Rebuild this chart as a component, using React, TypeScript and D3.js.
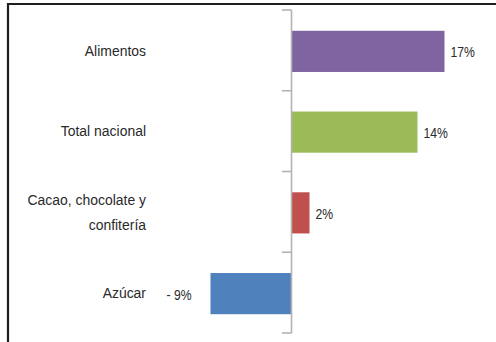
import React from "react";
import * as d3 from "d3";

// Variación porcentual por categoría
const categories = ["Alimentos", "Total nacional", "Cacao, chocolate y confitería", "Azúcar"];
const labelLines = [["Alimentos"], ["Total nacional"], ["Cacao, chocolate y", "confitería"], ["Azúcar"]];
const values = [17, 14, 2, -9];
const colors = ["#8064A2", "#9BBB59", "#C0504D", "#4F81BD"];

const W = 496;
const H = 342;
const FONT = "'Liberation Sans', Arial, Helvetica, sans-serif";
const TEXT = "#2a2a2a";
// horizontal squeeze for a condensed look
const CAT_SX = 0.93;
const VAL_SX = 0.84;

export default function App() {
  const y = d3
    .scaleBand<string>()
    .domain(categories)
    .range([10, 333])
    .paddingInner(0.49)
    .paddingOuter(0.245);

  const x = d3.scaleLinear().domain([-10, 20]).range([201.5, 471.5]);
  const x0 = x(0);

  const tickYs = [...categories.map((c) => (y(c) as number) - (y.step() * y.paddingInner()) / 2), 333];
  tickYs[0] = 10;

  const fmt = (v: number) => (v < 0 ? `- ${Math.abs(v)}%` : `${v}%`);

  return (
    <svg
      width={W}
      height={H}
      style={{ position: "absolute", left: 0, top: 0, background: "#fff" }}
      fontFamily={FONT}
    >
      {/* frame */}
      <line x1={8} y1={4} x2={W} y2={4} stroke="#1e1e1e" strokeWidth={2.2} />
      <line x1={8} y1={3} x2={8} y2={H} stroke="#1e1e1e" strokeWidth={2.2} />

      {/* bars */}
      {categories.map((c, i) => {
        const v = values[i];
        const by = (y(c) as number) + 1;
        return (
          <rect
            key={c}
            x={Math.min(x(v), x0)}
            y={by}
            width={Math.abs(x(v) - x0)}
            height={y.bandwidth()}
            fill={colors[i]}
          />
        );
      })}

      {/* category axis */}
      <line x1={x0} y1={10} x2={x0} y2={333} stroke="#b3b3b3" strokeWidth={1.6} />
      {tickYs.map((ty, i) => (
        <line key={i} x1={x0 - 9.5} y1={ty} x2={x0} y2={ty} stroke="#b3b3b3" strokeWidth={1.6} />
      ))}

      {/* category labels */}
      {categories.map((c, i) => {
        const cy = (y(c) as number) + y.bandwidth() / 2;
        const lines = labelLines[i];
        const lh = 25;
        return lines.map((l, j) => (
          <g
            key={`${c}-${j}`}
            transform={`translate(146,${cy + (j - (lines.length - 1) / 2) * lh}) scale(${CAT_SX},1)`}
          >
            <text textAnchor="end" dy="0.35em" fontSize={15} fill={TEXT}>
              {l}
            </text>
          </g>
        ));
      })}

      {/* value labels */}
      {categories.map((c, i) => {
        const v = values[i];
        const cy = (y(c) as number) + y.bandwidth() / 2 + 2;
        const pos = v >= 0;
        return (
          <g key={c} transform={`translate(${pos ? x(v) + 6 : x(v) - 19},${cy}) scale(${VAL_SX},1)`}>
            <text dy="0.35em" textAnchor={pos ? "start" : "end"} fontSize={14.5} fill={TEXT}>
              {fmt(v)}
            </text>
          </g>
        );
      })}
    </svg>
  );
}
